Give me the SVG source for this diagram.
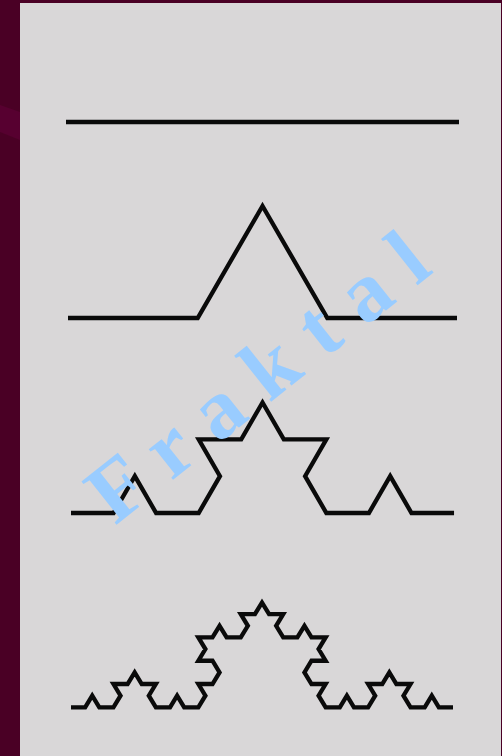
<svg xmlns="http://www.w3.org/2000/svg" width="502" height="756" viewBox="0 0 502 756">
  <style>
    .koch { fill: none; stroke: #0a0a0a; stroke-width: 4.3; stroke-linejoin: miter; stroke-linecap: butt; }
    .ns { vector-effect: non-scaling-stroke; }
    .title { font-family: "Liberation Serif", "Times New Roman", serif; font-weight: bold; font-size: 85px; fill: #99ccff; letter-spacing: 1px; }
  </style>
  <rect x="0" y="0" width="502" height="756" fill="#4a0025"/>
  <polygon points="0,105 20,112 20,140 0,132" fill="#570030"/>
  <rect x="20" y="3" width="481" height="753" fill="#d9d7d8"/>
  <g id="iteration0">
    <path class="koch" d="M66 122 H459"/>
  </g>
  <g id="iteration1">
    <path class="koch" d="M68 318 L197.7 318 L262.5 206 L327.3 318 L457 318"/>
  </g>
  <g id="iteration2" transform="translate(71 513) scale(21.28)">
    <path class="koch ns" d="M0 0 l2 0 1 -1.732 1 1.732 2 0 1 -1.732 -1 -1.732 2 0 1 -1.732 1 1.732 2 0 -1 1.732 1 1.732 2 0 1 -1.732 1 1.732 2 0"/>
  </g>
  <g id="iteration3" transform="translate(71 707.3) scale(7.074 6.72)">
    <path class="koch ns" d="M0 0 l2 0 1 -1.732 1 1.732 2 0 1 -1.732 -1 -1.732 2 0 1 -1.732 1 1.732 2 0 -1 1.732 1 1.732 2 0 1 -1.732 1 1.732 2 0
      1 -1.732 -1 -1.732 2 0 1 -1.732 -1 -1.732 -2 0 1 -1.732 -1 -1.732 2 0 1 -1.732 1 1.732 2 0 1 -1.732 -1 -1.732 2 0 1 -1.732
      1 1.732 2 0 -1 1.732 1 1.732 2 0 1 -1.732 1 1.732 2 0 -1 1.732 1 1.732 -2 0 -1 1.732 1 1.732 2 0 -1 1.732 1 1.732
      2 0 1 -1.732 1 1.732 2 0 1 -1.732 -1 -1.732 2 0 1 -1.732 1 1.732 2 0 -1 1.732 1 1.732 2 0 1 -1.732 1 1.732 2 0"/>
  </g>
  <g id="title">
    <text class="title" transform="translate(115 526) rotate(-38.5)" x="0" y="0">F r a k t a l</text>
  </g>
</svg>
